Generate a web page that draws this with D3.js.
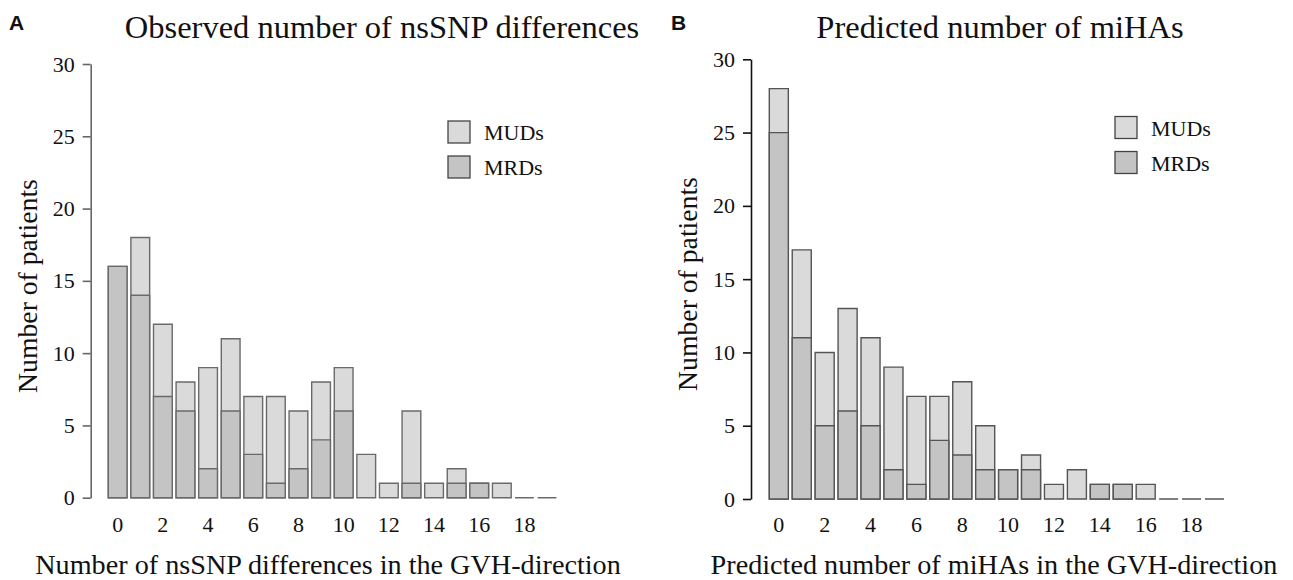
<!DOCTYPE html>
<html>
<head>
<meta charset="utf-8">
<script src="https://cdn.jsdelivr.net/npm/d3@7"></script>
<style>
  body { margin: 0; background: #fff; }
  svg text { font-family: "Liberation Serif", "Times New Roman", serif; fill: #111; }
  .letter { font-family: "Liberation Sans", Arial, sans-serif !important; font-weight: bold; }
</style>
</head>
<body>
<div id="chart"></div>
<script>
// Data
const categories = [0, 1, 2, 3, 4, 5, 6, 7, 8, 9, 10, 11, 12, 13, 14, 15, 16, 17, 18, 19];
const tickLabels = [0, 2, 4, 6, 8, 10, 12, 14, 16, 18];
const yTicks = [0, 5, 10, 15, 20, 25, 30];

// Panel A: observed nsSNP differences (total = MUDs + MRDs, MRDs drawn from the bottom)
const snpTotal = [16, 18, 12, 8, 9, 11, 7, 7, 6, 8, 9, 3, 1, 6, 1, 2, 1, 1, 0, 0];
const snpMRD   = [16, 14, 7, 6, 2, 6, 3, 1, 2, 4, 6, 0, 0, 1, 0, 1, 1, 0, 0, 0];

// Panel B: predicted miHAs
const mihaTotal = [28, 17, 10, 13, 11, 9, 7, 7, 8, 5, 2, 3, 1, 2, 1, 1, 1, 0, 0, 0];
const mihaMRD   = [25, 11, 5, 6, 5, 2, 1, 4, 3, 2, 2, 2, 0, 0, 1, 1, 0, 0, 0, 0];

const legendLabels = ["MUDs", "MRDs"];
const lightFill = "#dadada";
const darkFill = "#c4c4c4";

const svg = d3.select("#chart").append("svg")
    .attr("width", 1293)
    .attr("height", 580);

function barPath(x0, w, y0, y1) {
    // path so that zero-height bars still show as a line
    return `M${x0},${y0}H${x0 + w}V${y1}H${x0}Z`;
}

function drawPanel(opts) {
    const g = svg.append("g");

    const x = d3.scaleBand()
        .domain(categories)
        .range(opts.xRange)
        .paddingInner(0.17)
        .paddingOuter(0);

    const y = d3.scaleLinear()
        .domain([0, 30])
        .range(opts.yRange);

    // y axis
    const yAxis = g.append("g")
        .attr("transform", `translate(${opts.axisX},0)`)
        .call(d3.axisLeft(y).tickValues(yTicks).tickSize(8).tickSizeOuter(0).tickPadding(8));
    yAxis.select(".domain").attr("stroke", opts.axisColor).attr("stroke-width", 1.6);
    yAxis.selectAll(".tick line").attr("stroke", opts.axisColor).attr("stroke-width", 1.6);
    yAxis.selectAll(".tick text")
        .attr("font-size", 22)
        .attr("font-family", "Liberation Serif, serif")
        .attr("fill", "#111");

    // total bars (light)
    g.selectAll(".total")
        .data(categories)
        .enter()
        .append("path")
        .attr("class", "total")
        .attr("d", d => barPath(x(d), x.bandwidth(), y(0), y(opts.total[d])))
        .attr("fill", lightFill)
        .attr("stroke", opts.barStroke)
        .attr("stroke-width", 1.4);

    // MRD bars (dark) from the bottom
    g.selectAll(".mrd")
        .data(categories.filter(d => opts.mrd[d] > 0))
        .enter()
        .append("path")
        .attr("class", "mrd")
        .attr("d", d => barPath(x(d), x.bandwidth(), y(0), y(opts.mrd[d])))
        .attr("fill", darkFill)
        .attr("stroke", opts.barStroke)
        .attr("stroke-width", 1.4);

    // x tick labels (no axis line)
    g.selectAll(".xlab")
        .data(tickLabels)
        .enter()
        .append("text")
        .attr("class", "xlab")
        .attr("x", d => x(d) + x.bandwidth() / 2)
        .attr("y", 532)
        .attr("text-anchor", "middle")
        .attr("font-size", 22)
        .text(d => d);

    // titles
    g.append("text")
        .attr("x", opts.titleX)
        .attr("y", 38)
        .attr("text-anchor", "middle")
        .attr("font-size", 32.5)
        .text(opts.title);

    g.append("text")
        .attr("x", opts.xTitleX)
        .attr("y", 574)
        .attr("text-anchor", "middle")
        .attr("font-size", 28.2)
        .text(opts.xTitle);

    g.append("text")
        .attr("transform", `translate(${opts.yTitleX},${opts.yTitleY}) rotate(-90)`)
        .attr("text-anchor", "middle")
        .attr("font-size", 27.7)
        .text("Number of patients");

    g.append("text")
        .attr("class", "letter")
        .attr("x", opts.letterX)
        .attr("y", 30)
        .attr("font-size", 21)
        .text(opts.letter);

    // legend
    const leg = g.selectAll(".leg")
        .data(legendLabels)
        .enter()
        .append("g")
        .attr("transform", (d, i) => `translate(${opts.legendX},${opts.legendY + i * 35})`);
    leg.append("rect")
        .attr("width", 22)
        .attr("height", 22)
        .attr("fill", (d, i) => i === 0 ? lightFill : darkFill)
        .attr("stroke", "#444")
        .attr("stroke-width", 1.3);
    leg.append("text")
        .attr("x", 36)
        .attr("y", 19)
        .attr("font-size", 22)
        .text(d => d);
}

drawPanel({
    letter: "A", letterX: 9,
    title: "Observed number of nsSNP differences", titleX: 382,
    xTitle: "Number of nsSNP differences in the GVH-direction", xTitleX: 328,
    yTitleX: 37, yTitleY: 286,
    xRange: [108.3, 556.4], yRange: [497.7, 64], axisX: 90.7,
    axisColor: "#666", barStroke: "#6a6a6a",
    total: snpTotal, mrd: snpMRD,
    legendX: 448, legendY: 121
});

drawPanel({
    letter: "B", letterX: 671,
    title: "Predicted number of miHAs", titleX: 1000,
    xTitle: "Predicted number of miHAs in the GVH-direction", xTitleX: 994,
    yTitleX: 697, yTitleY: 284,
    xRange: [769.3, 1224], yRange: [499, 59.3], axisX: 751,
    axisColor: "#111", barStroke: "#555",
    total: mihaTotal, mrd: mihaMRD,
    legendX: 1115, legendY: 116.5
});
</script>
</body>
</html>
